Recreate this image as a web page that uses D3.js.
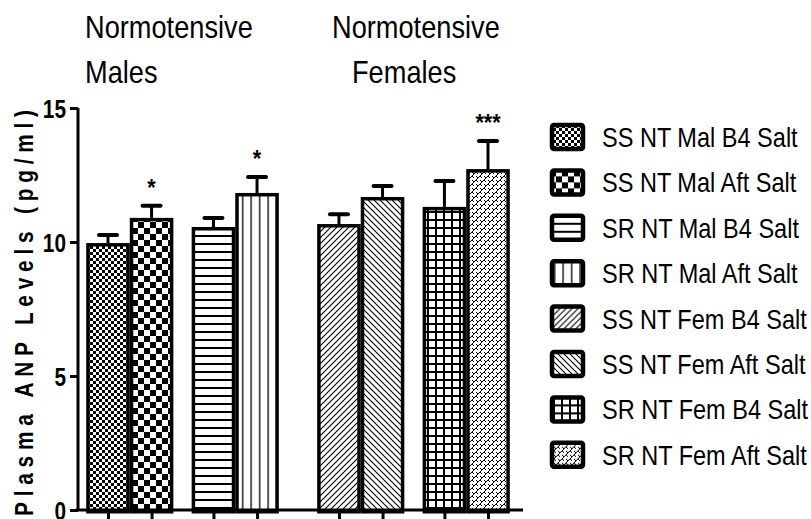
<!DOCTYPE html>
<html>
<head>
<meta charset="utf-8">
<script src="https://cdn.jsdelivr.net/npm/d3@7"></script>
<style>
  html, body { margin: 0; padding: 0; background: #fff; }
  svg { display: block; }
  text { font-family: "Liberation Sans", Arial, sans-serif; fill: #000; }
</style>
</head>
<body>
<div id="chart"></div>
<script>
// series, in plotting order
const categories = [
    'SS NT Mal B4 Salt', 'SS NT Mal Aft Salt', 'SR NT Mal B4 Salt', 'SR NT Mal Aft Salt',
    'SS NT Fem B4 Salt', 'SS NT Fem Aft Salt', 'SR NT Fem B4 Salt', 'SR NT Fem Aft Salt',
];
const means = [9.96, 10.9, 10.56, 11.83, 10.67, 11.68, 11.31, 12.72];
const sems = [0.30, 0.45, 0.34, 0.60, 0.37, 0.41, 0.97, 1.05];
const marks = ['', '*', '', '*', '', '', '', '***'];
const patterns = ['checkFine', 'checkBig', 'hLines', 'vLines', 'diagUp', 'diagDown', 'grid', 'zigzag'];
const yTicks = [0, 5, 10, 15];
const headers = [['Normotensive', 'Males'], ['Normotensive', 'Females']];
const yLabel = 'Plasma ANP Levels (pg/ml)';

const W = 811, H = 519;
const svg = d3.select('#chart').append('svg').attr('width', W).attr('height', H);

// no narrow font installed: squeeze the glyphs horizontally instead
function squeeze(sel, f) {
    sel.each(function () {
        const len = this.getComputedTextLength();
        d3.select(this).attr('textLength', len * f).attr('lengthAdjust', 'spacingAndGlyphs');
    });
}

// ---- patterns
const defs = svg.append('defs');
function pat(id, size) {
    const p = defs.append('pattern').attr('id', id).attr('patternUnits', 'userSpaceOnUse')
        .attr('width', size).attr('height', size);
    p.append('rect').attr('width', size).attr('height', size).attr('fill', '#fff');
    return p;
}
let p = pat('checkFine', 6);
p.append('rect').attr('width', 3).attr('height', 3).attr('fill', '#000');
p.append('rect').attr('x', 3).attr('y', 3).attr('width', 3).attr('height', 3).attr('fill', '#000');
p = pat('checkBig', 12);
p.append('rect').attr('width', 6).attr('height', 6).attr('fill', '#000');
p.append('rect').attr('x', 6).attr('y', 6).attr('width', 6).attr('height', 6).attr('fill', '#000');
p = pat('hLines', 8);
p.append('rect').attr('y', 3).attr('width', 8).attr('height', 2).attr('fill', '#000');
p = pat('vLines', 8.5);
p.append('rect').attr('x', 4).attr('width', 1.3).attr('height', 8.5).attr('fill', '#000');
p = pat('diagUp', 6);
p.append('path').attr('d', 'M-1,7 L7,-1 M-4,4 L4,-4 M2,10 L10,2').attr('stroke', '#000').attr('stroke-width', 1.1);
p = pat('diagDown', 6);
p.append('path').attr('d', 'M-1,-1 L7,7 M-4,2 L4,10 M2,-4 L10,4').attr('stroke', '#000').attr('stroke-width', 1.1);
p = pat('grid', 8);
p.append('rect').attr('y', 3).attr('width', 8).attr('height', 2).attr('fill', '#000');
p.append('rect').attr('x', 3).attr('width', 2).attr('height', 8).attr('fill', '#000');
p = pat('zigzag', 8);
p.append('path').attr('d', 'M0,8 L8,0 M0,4 L2,6 M4,4 L6,6 M4,0 L6,2 M0,0 L2,2')
    .attr('stroke', '#000').attr('stroke-width', 1).attr('fill', 'none');

// ---- scales
const slot = i => i + Math.floor(i / 2) * 0.42 + (i >= 4 ? 0.46 : 0);
const x = d3.scaleLinear().domain([0, slot(7)]).range([108, 488]);
const bw = x(1) - x(0);
const y = d3.scaleLinear().domain([0, 15]).range([510, 108]);

const plot = svg.append('g');

// bars
const data = categories.map((c, i) => ({ c, i, m: means[i], s: sems[i], mark: marks[i], pat: patterns[i] }));
const sw = 3.5;
plot.selectAll('rect.bar').data(data).enter().append('rect')
    .attr('class', 'bar')
    .attr('x', d => x(slot(d.i)) - bw / 2 + sw / 2)
    .attr('y', d => y(d.m) + sw / 2)
    .attr('width', bw - sw)
    .attr('height', d => y(0) - y(d.m))
    .attr('fill', d => `url(#${d.pat})`)
    .attr('stroke', '#000').attr('stroke-width', sw);

// error bars
plot.selectAll('line.err').data(data).enter().append('line')
    .attr('x1', d => x(slot(d.i))).attr('x2', d => x(slot(d.i)))
    .attr('y1', d => y(d.m)).attr('y2', d => y(d.m + d.s))
    .attr('stroke', '#000').attr('stroke-width', 3);
plot.selectAll('line.cap').data(data).enter().append('line')
    .attr('x1', d => x(slot(d.i)) - 9).attr('x2', d => x(slot(d.i)) + 9)
    .attr('y1', d => y(d.m + d.s)).attr('y2', d => y(d.m + d.s))
    .attr('stroke', '#000').attr('stroke-width', 4).attr('stroke-linecap', 'round');

// significance marks
plot.selectAll('text.mark').data(data.filter(d => d.mark)).enter().append('text')
    .attr('x', d => x(slot(d.i)))
    .attr('y', d => y(d.m + d.s) - 10)
    .attr('text-anchor', 'middle')
    .attr('font-size', 24).attr('font-weight', 'bold')
    .text(d => d.mark)
    .call(squeeze, 0.9);

// y axis
const yAxis = svg.append('g').attr('transform', 'translate(78,0)')
    .call(d3.axisLeft(y).tickValues(yTicks).tickSize(8).tickPadding(4));
yAxis.select('.domain').attr('stroke-width', 3).attr('d', `M0,${y(15)}V${y(0)}`);
yAxis.selectAll('.tick line').attr('stroke-width', 3);
yAxis.selectAll('.tick text').attr('font-size', 26).attr('font-weight', 'bold')
    .attr('font-family', null).attr('dy', '0.36em')
    .call(squeeze, 0.8);

// x axis
const xAxis = svg.append('g').attr('transform', `translate(0,${y(0)})`)
    .call(d3.axisBottom(x).tickValues(data.map(d => slot(d.i))).tickSize(12).tickFormat(''));
xAxis.select('.domain').attr('stroke-width', 3).attr('d', 'M76,0H523');
xAxis.selectAll('.tick line').attr('stroke-width', 3);

// y label: compressed glyphs, spread letters
const fy = 0.8;
svg.append('text')
    .attr('transform', `translate(33,313) rotate(-90) scale(${fy},1)`)
    .attr('text-anchor', 'middle')
    .attr('font-size', 26).attr('font-weight', 'bold')
    .attr('textLength', 406 / fy).attr('lengthAdjust', 'spacing')
    .text(yLabel);

// group headers
const headerX = [[85, 85], [332, 352]];
headers.forEach((lines, g) => {
    lines.forEach((t, k) => {
        svg.append('text')
            .attr('x', headerX[g][k]).attr('y', 38 + k * 45)
            .attr('font-size', 32)
            .text(t)
            .call(squeeze, 0.85);
    });
});

// legend
const legend = svg.append('g').selectAll('g').data(data).enter().append('g')
    .attr('transform', d => `translate(550,${137 + d.i * 45.4})`);
legend.append('rect')
    .attr('x', 2).attr('y', -12).attr('width', 31).attr('height', 24).attr('rx', 2)
    .attr('fill', d => `url(#${d.pat})`)
    .attr('stroke', '#000').attr('stroke-width', 4.5);
legend.append('text')
    .attr('x', 52).attr('dy', '0.36em')
    .attr('font-size', 28)
    .text(d => d.c)
    .call(squeeze, 0.84);
</script>
</body>
</html>
